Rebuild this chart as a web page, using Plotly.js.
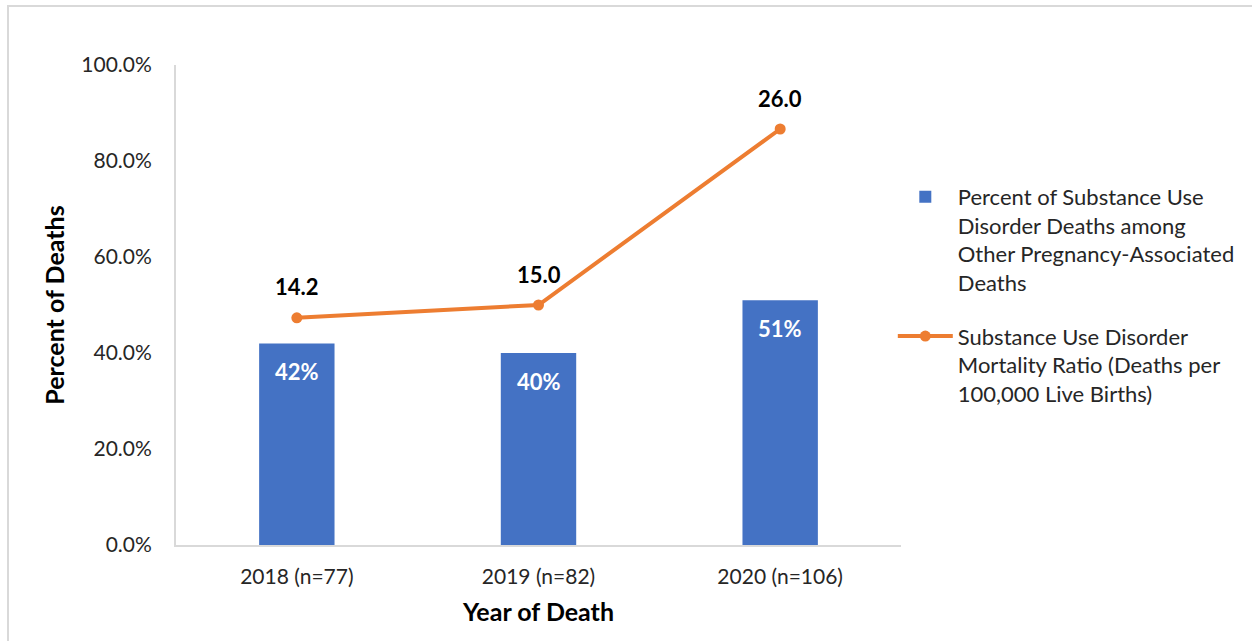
<!DOCTYPE html>
<html>
<head>
<meta charset="utf-8">
<script src="https://cdn.plot.ly/plotly-3.0.1.min.js"></script>
<style>
  html, body { margin: 0; padding: 0; background: #fff; }
  #wrap { position: relative; width: 1252px; height: 641px; overflow: hidden; }
  #frame { position: absolute; left: 7px; top: 5px; width: 1260px; height: 660px; border: 2px solid #d9d9d9; box-sizing: border-box; }
  #chart { position: absolute; left: 0; top: 0; width: 1252px; height: 641px; }
</style>
</head>
<body>
<div id="wrap">
  <div id="frame"></div>
  <div id="chart"></div>
</div>
<script>
const categories = ["2018 (n=77)", "2019 (n=82)", "2020 (n=106)"];
const percentSUD = [0.42, 0.40, 0.51];
const percentLabels = ["42%", "40%", "51%"];
const mortalityRatio = [14.2, 15.0, 26.0];
const mortalityLabels = ["14.2", "15.0", "26.0"];
const yTickVals = [0, 0.2, 0.4, 0.6, 0.8, 1.0];

const FONT = "Lato, 'Open Sans', sans-serif";
const BLUE = "#4472C4";
const ORANGE = "#ED7D31";

const barTrace = {
  type: "bar",
  x: categories,
  y: percentSUD,
  name: "Percent of Substance Use<br>Disorder Deaths among<br>Other Pregnancy-Associated<br>Deaths",
  legendgroup: "a",
  marker: { color: BLUE },
  hoverinfo: "x+y"
};

const lineTrace = {
  type: "scatter",
  mode: "lines+markers",
  x: categories,
  y: mortalityRatio,
  yaxis: "y2",
  name: "Substance Use Disorder<br>Mortality Ratio (Deaths per<br>100,000 Live Births)",
  legendgroup: "b",
  line: { color: ORANGE, width: 4 },
  marker: { color: ORANGE, size: 11 }
};

const annotations = [];
categories.forEach((c, i) => {
  annotations.push({
    x: c, y: percentSUD[i], xref: "x", yref: "y",
    text: "<b>" + percentLabels[i] + "</b>",
    showarrow: false, yshift: -28,
    font: { family: FONT, size: 22, color: "#ffffff" }
  });
  annotations.push({
    x: c, y: mortalityRatio[i], xref: "x", yref: "y2",
    text: "<b>" + mortalityLabels[i] + "</b>",
    showarrow: false, yshift: 31,
    font: { family: FONT, size: 22, color: "#000000" }
  });
});

const layout = {
  width: 1252, height: 641,
  paper_bgcolor: "rgba(0,0,0,0)",
  plot_bgcolor: "rgba(0,0,0,0)",
  margin: { l: 176, r: 346, t: 65, b: 96, pad: 0 },
  font: { family: FONT, size: 21, color: "#262626" },
  bargap: 0.688,
  showlegend: true,
  legend: {
    x: 0.9887, xanchor: "left", y: 0.769, yanchor: "top",
    font: { family: FONT, size: 22, color: "#262626" },
    itemwidth: 55, tracegroupgap: 22, valign: "top",
    bgcolor: "rgba(0,0,0,0)"
  },
  xaxis: {
    type: "category",
    showline: true, linecolor: "#d9d9d9", linewidth: 2,
    showgrid: false, zeroline: false, ticks: "",
    ticklabelstandoff: 12,
    tickfont: { family: FONT, size: 21, color: "#262626" },
    title: { text: "<b>Year of Death</b>", font: { family: FONT, size: 25, color: "#000000" }, standoff: 16 }
  },
  yaxis: {
    range: [0, 1],
    tickvals: yTickVals,
    tickformat: ".1%",
    showline: true, linecolor: "#d9d9d9", linewidth: 2,
    showgrid: false, zeroline: false, ticks: "",
    ticklabelstandoff: 18,
    tickfont: { family: FONT, size: 21, color: "#262626" },
    title: { text: "<b>Percent of Deaths</b>", font: { family: FONT, size: 25, color: "#000000" }, standoff: 10 }
  },
  yaxis2: {
    overlaying: "y", side: "right", range: [0, 30], visible: false
  },
  annotations: annotations
};

Plotly.newPlot("chart", [barTrace, lineTrace], layout, { displayModeBar: false, staticPlot: true });
</script>
</body>
</html>
